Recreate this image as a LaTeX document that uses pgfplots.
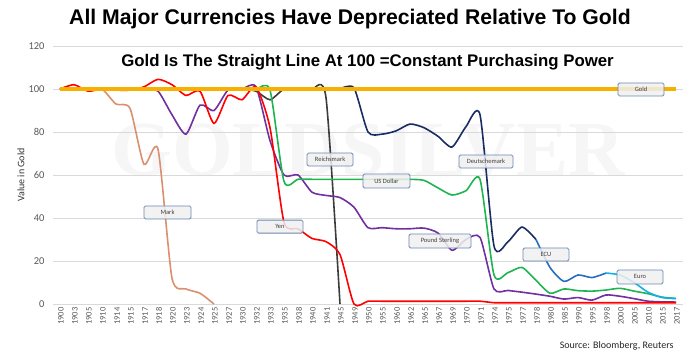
\documentclass[border=0pt]{standalone}
\usepackage{pgfplots}
\pgfplotsset{compat=1.18}
\usepackage{fontspec}
\setmainfont{Liberation Sans}
\newfontfamily\carlito{Carlito}
\newfontfamily\wmfont{Liberation Serif}
\definecolor{goldc}{RGB}{247,176,0}
\definecolor{markc}{RGB}{220,143,110}
\definecolor{yenc}{RGB}{255,0,0}
\definecolor{gbpc}{RGB}{112,48,160}
\definecolor{usdc}{RGB}{30,180,80}
\definecolor{rmc}{RGB}{60,60,60}
\definecolor{dmc}{RGB}{25,45,100}
\definecolor{ecuc}{RGB}{40,110,190}
\definecolor{euroc}{RGB}{20,176,235}
\definecolor{gridc}{RGB}{217,217,217}
\definecolor{tickc}{RGB}{89,89,89}
\definecolor{boxc}{RGB}{105,135,175}
\definecolor{boxfill}{RGB}{240,240,240}
\definecolor{wmc}{RGB}{246,246,246}
\tikzset{lbl/.style={draw=boxc, fill=boxfill, fill opacity=0.85, text opacity=1, rounded corners=1.5pt, line width=0.8pt, minimum height=13pt, minimum width=46pt, inner sep=1pt, font=\carlito\fontsize{6.5}{7}\selectfont, text=black!75}}
\begin{document}
\begin{tikzpicture}[x=1pt,y=1pt]
\useasboundingbox (-53,-58) rectangle (647,304);
\node[font=\wmfont\bfseries\fontsize{78}{80}\selectfont, text=wmc, anchor=base] at (315,129) {GOLDSILVER};
\begin{axis}[
  scale only axis, width=630pt, height=258pt,
  xmin=-0.5, xmax=44.5, ymin=0, ymax=120,
  clip=false,
  axis line style={draw=none},
  major tick length=0pt,
  ymajorgrids, grid style={gridc, line width=0.8pt},
  ytick={0,20,...,120},
  xtick={0,...,44},
  xticklabels={1900,1903,1905,1910,1914,1915,1917,1918,1920,1923,1924,1925,1927,1930,1932,1933,1935,1938,1940,1941,1945,1949,1950,1955,1960,1962,1965,1967,1969,1970,1971,1974,1975,1977,1978,1980,1985,1990,1995,1998,2000,2005,2010,2015,2017},
  /pgf/number format/assume math mode=true,
  yticklabel style={font=\carlito\fontsize{10.5}{12}\selectfont, text=tickc, anchor=east, xshift=-5pt},
  xticklabel style={font=\carlito\fontsize{8.5}{10}\selectfont, text=tickc, rotate=90, anchor=east, yshift=-1pt},
  every axis plot/.append style={smooth, tension=0.4, line width=1.6pt, no markers},
]
% Mark
\addplot[markc] coordinates {(0,100)(1,100)(2,100)(3,100)(4,93)(5,91)(6,65)(7,72)(8,12)(9,7)(10,5)(11,0)};
% Reichsmark
\addplot[rmc] coordinates {(12,100)(13,100)(14,99)(15,95)(16,100)(17,100)(18,100)(19,96)(20,0)};
% Pound Sterling
\addplot[gbpc] coordinates {(0,100)(1,100)(2,100)(3,100)(4,100)(5,100)(6,100)(7,99)(8,88)(9,79)(10,92.5)(11,90)(12,99.5)(13,100)(14,101)(15,76)(16,60)(17,60)(18,52)(19,50.5)(20,49.5)(21,45)(22,35.5)(23,35.5)(24,35)(25,35)(26,35.3)(27,33)(28,25)(29,30)(30,31)(31,7)(32,6.3)(33,5.5)(34,4.6)(35,3.6)(36,2.3)(37,3)(38,1.8)(39,4.2)(40,3.6)(41,2.5)(42,1.3)(43,1)(44,0.9)};
% US Dollar
\addplot[usdc] coordinates {(0,100)(1,100)(2,100)(3,100)(4,100)(5,100)(6,100)(7,100)(8,100)(9,100)(10,100)(11,100)(12,100)(13,100)(14,100)(15,99.5)(16,57)(17,58)(18,58)(19,58)(20,58)(21,58)(22,58)(23,58)(24,58)(25,58)(26,57.5)(27,54)(28,50.7)(29,52.7)(30,58)(31,13.5)(32,14.6)(33,17)(34,11)(35,5)(36,7)(37,6.2)(38,6)(39,6.5)(40,7.3)(41,6)(42,4.8)(43,3.2)(44,2.6)};
% Yen
\addplot[yenc] coordinates {(0,100)(1,102)(2,99)(3,100)(4,99.5)(5,99.5)(6,101)(7,104.5)(8,102)(9,97)(10,99)(11,84)(12,97)(13,95)(14,101)(15,82)(16,38)(17,35)(18,30.5)(19,29)(20,23)(21,0)(22,1.3)(23,1.3)(24,1.3)(25,1.3)(26,1.3)(27,1.3)(28,1.3)(29,1.3)(30,1.3)(31,0.6)(32,0.6)(33,0.6)(34,0.6)(35,0.6)(36,0.6)(37,0.6)(38,0.6)(39,0.6)(40,0.6)(41,0.6)(42,0.6)(43,0.6)(44,0.6)};
% Deutschemark
\addplot[dmc] coordinates {(20,100)(21,100.5)(22,80)(23,79)(24,80.5)(25,83.7)(26,82)(27,78)(28,73)(29,82.5)(30,88)(31,27)(32,29)(33,35.8)(34,30)};
% ECU
\addplot[ecuc] coordinates {(34,30)(35,17)(36,10.5)(37,13.5)(38,12.3)(39,14.4)};
% Euro
\addplot[euroc] coordinates {(39,14.4)(40,13.5)(41,10)(42,5.5)(43,3)(44,2.5)};
% Gold
\addplot[goldc, line width=4pt, sharp plot] coordinates {(0,100)(44,100)};
% labels
\node[lbl] at (axis cs:41.5,99.8) {Gold};
\node[lbl] at (axis cs:19.29,67.2) {Reichsmark};
\node[lbl, minimum width=54pt] at (axis cs:30.43,66.3) {Deutschemark};
\node[lbl, minimum width=47pt, minimum height=14pt] at (axis cs:23.32,57.2) {US Dollar};
\node[lbl, minimum width=47pt] at (axis cs:7.68,42.6) {Mark};
\node[lbl] at (axis cs:15.71,36.0) {Yen};
\node[lbl, minimum width=62pt, minimum height=14pt] at (axis cs:27.14,29.3) {Pound Sterling};
\node[lbl] at (axis cs:34.71,23.0) {ECU};
\node[lbl, minimum height=14pt] at (axis cs:41.43,12.6) {Euro};
\end{axis}
\node[font=\bfseries\fontsize{21.2}{24}\selectfont, anchor=base] at (297,279) {All Major Currencies Have Depreciated Relative To Gold};
\node[font=\bfseries\fontsize{16.8}{20}\selectfont, anchor=base] at (314.5,237.5) {Gold Is The Straight Line At 100 =Constant Purchasing Power};
\node[font=\carlito\fontsize{10}{12}\selectfont, text=black!80, rotate=90] at (-32,129) {Value in Gold};
\node[font=\carlito\fontsize{10}{12}\selectfont, text=black!85, anchor=base east] at (624,-44) {Source: Bloomberg, Reuters};
\end{tikzpicture}
\end{document}
